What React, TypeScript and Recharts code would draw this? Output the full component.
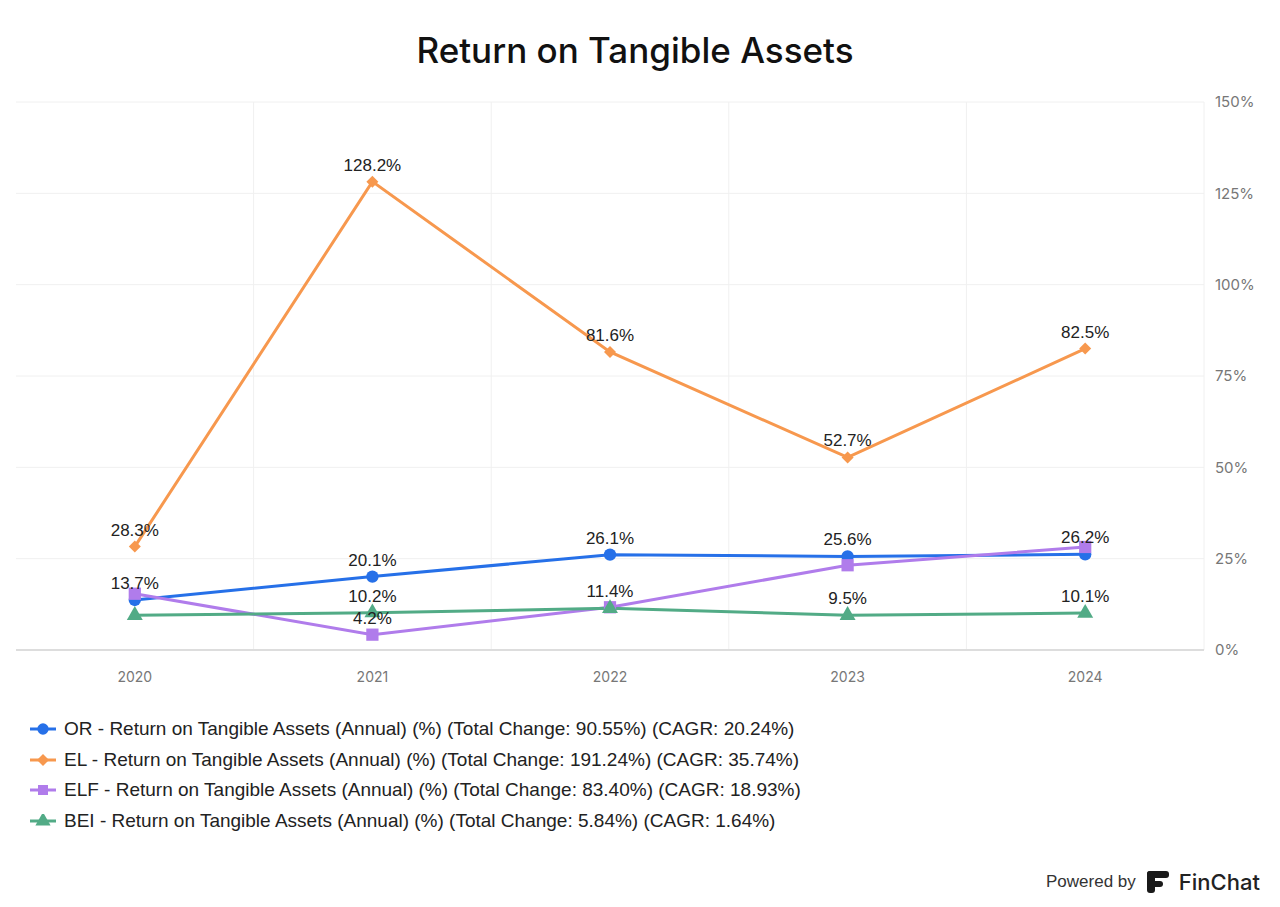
import React from "react";
import { LineChart, Line, XAxis, YAxis, CartesianGrid, LabelList, Symbols } from "recharts";

const years = ["2020", "2021", "2022", "2023", "2024"];
const orValues = [13.7, 20.1, 26.1, 25.6, 26.2];
const elValues = [28.3, 128.2, 81.6, 52.7, 82.5];
const elfValues = [15.4, 4.2, 11.7, 23.2, 28.2];
const beiValues = [9.5, 10.2, 11.4, 9.5, 10.1];
const yTicks = [0, 25, 50, 75, 100, 125, 150];

// which value labels the source chart actually shows (others are hidden by overlap)
const orLabels = [true, true, true, true, true];
const elLabels = [true, true, true, true, true];
const elfLabels = [false, true, false, false, false];
const beiLabels = [false, true, true, true, true];

const series = [
  { key: "OR", color: "#2670e8", shape: "circle", size: 120, labels: orLabels, values: orValues, change: "90.55%", cagr: "20.24%" },
  { key: "EL", color: "#f7984e", shape: "diamond", size: 6, labels: elLabels, values: elValues, change: "191.24%", cagr: "35.74%" },
  { key: "ELF", color: "#b07ceb", shape: "square", size: 150, labels: elfLabels, values: elfValues, change: "83.40%", cagr: "18.93%" },
  { key: "BEI", color: "#52ab86", shape: "triangle", size: 110, labels: beiLabels, values: beiValues, change: "5.84%", cagr: "1.64%" },
];

const data = years.map((year, i) => {
  const row: Record<string, string | number> = { year };
  series.forEach((s) => (row[s.key] = s.values[i]));
  return row;
});

const valueLabel = (shown: boolean[]) => (props: any) => {
  const { x, y, value, index } = props;
  if (!shown[index]) return null;
  return (
    <text x={x} y={y - 11} textAnchor="middle" fontSize={17} fill="#222" fontFamily="Arial, 'Liberation Sans', sans-serif">
      {`${value.toFixed(1)}%`}
    </text>
  );
};

function Marker({ cx, cy, shape, size, color }: any) {
  if (shape === "diamond") {
    return <polygon points={`${cx},${cy - size} ${cx + size},${cy} ${cx},${cy + size} ${cx - size},${cy}`} fill={color} />;
  }
  return <Symbols cx={cx} cy={cy} type={shape} size={size} fill={color} />;
}

function LegendIcon({ color, shape }: { color: string; shape: any }) {
  return (
    <svg width={26} height={14} style={{ marginRight: 8 }}>
      <line x1={0} x2={26} y1={7} y2={7} stroke={color} strokeWidth={3} />
      <Marker cx={13} cy={7} shape={shape} size={shape === "diamond" ? 6 : 100} color={color} />
    </svg>
  );
}

export default function App() {
  return (
    <div style={{ position: "absolute", left: 0, top: 0, width: 1280, height: 907, background: "#fff", fontFamily: "Arial, 'Liberation Sans', sans-serif" }}>
      <div style={{ position: "absolute", top: 29, left: 0, width: 1270, textAlign: "center", fontFamily: "Inter, sans-serif", fontSize: 35, fontWeight: 500, color: "#111" }}>
        Return on Tangible Assets
      </div>
      <LineChart width={1280} height={700} data={data} margin={{ top: 102, right: 16, bottom: 10, left: 16 }}>
        <CartesianGrid
          stroke="#f0f0f0"
          verticalCoordinatesGenerator={({ offset }: any) => years.map((_, i) => offset.left + ((i + 1) * offset.width) / years.length)}
        />
        <XAxis
          dataKey="year"
          scale="band"
          axisLine={{ stroke: "#dddddd", strokeWidth: 2 }}
          tickLine={false}
          tickMargin={16}
          height={40}
          tick={{ fill: "#777", fontSize: 14, fontFamily: "Inter, sans-serif" }}
        />
        <YAxis
          orientation="right"
          domain={[0, 150]}
          ticks={yTicks}
          tickFormatter={(v: number) => `${v}%`}
          axisLine={false}
          tickLine={false}
          tickSize={0}
          tickMargin={11}
          width={60}
          tick={{ fill: "#777", fontSize: 15, fontFamily: "Inter, sans-serif" }}
        />
        {series.map((s) => (
          <Line
            key={s.key}
            dataKey={s.key}
            stroke={s.color}
            strokeWidth={3}
            isAnimationActive={false}
            dot={(p: any) => <Marker key={`${s.key}-${p.index}`} cx={p.cx} cy={p.cy} shape={s.shape} size={s.size} color={s.color} />}
            activeDot={false}
          >
            <LabelList dataKey={s.key} content={valueLabel(s.labels)} />
          </Line>
        ))}
      </LineChart>
      <div style={{ position: "absolute", left: 30, top: 714, fontSize: 19, color: "#222", lineHeight: "30.5px" }}>
        {series.map((s) => (
          <div key={s.key} style={{ display: "flex", alignItems: "center" }}>
            <LegendIcon color={s.color} shape={s.shape} />
            <span>{`${s.key} - Return on Tangible Assets (Annual) (%) (Total Change: ${s.change}) (CAGR: ${s.cagr})`}</span>
          </div>
        ))}
      </div>
      <div style={{ position: "absolute", left: 1046, top: 869, display: "flex", alignItems: "center", color: "#333" }}>
        <span style={{ fontSize: 17 }}>Powered by</span>
        <svg width={26} height={26} viewBox="0 0 26 26" style={{ marginLeft: 9, marginRight: 8 }}>
          <rect x={2} y={2} width={22} height={7} rx={3} fill="#1a1a1a" />
          <rect x={2} y={2} width={8} height={22} rx={3} fill="#1a1a1a" />
          <rect x={2} y={12} width={16} height={6} rx={3} fill="#1a1a1a" />
        </svg>
        <span style={{ fontSize: 22, fontFamily: "Inter, sans-serif", fontWeight: 500, color: "#222" }}>FinChat</span>
      </div>
    </div>
  );
}
